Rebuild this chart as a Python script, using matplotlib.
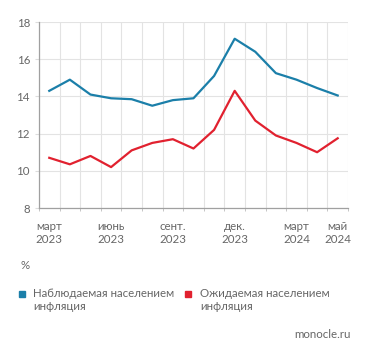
import numpy as np
import matplotlib
matplotlib.use('Agg')
import matplotlib.pyplot as plt
from matplotlib.lines import Line2D

plt.rcParams['font.family'] = ['Lato', 'DejaVu Sans']

# месяцы с марта 2023 по май 2024
months = ['март\n2023', 'апр.\n2023', 'май\n2023', 'июнь\n2023', 'июль\n2023',
          'авг.\n2023', 'сент.\n2023', 'окт.\n2023', 'нояб.\n2023', 'дек.\n2023',
          'янв.\n2024', 'февр.\n2024', 'март\n2024', 'апр.\n2024', 'май\n2024']
observed = [14.3, 14.9, 14.1, 13.9, 13.85, 13.5, 13.8, 13.9, 15.1, 17.1,
            16.4, 15.25, 14.9, 14.45, 14.05]
expected = [10.7, 10.35, 10.8, 10.2, 11.1, 11.5, 11.7, 11.2, 12.2, 14.3,
            12.7, 11.9, 11.5, 11.0, 11.75]
shown = [0, 3, 6, 9, 12, 14]

blue = '#1b7fa9'
red = '#e1212f'
grey = '#666666'
fs = 8.3

fig = plt.figure(figsize=(3.71, 3.55), dpi=100)
ax = fig.add_axes([0.105, 0.414, 0.833, 0.524])

x = np.arange(len(months)) + 0.5
ax.plot(x, observed, color=blue, lw=1.6, solid_joinstyle='round')
ax.plot(x, expected, color=red, lw=1.6, solid_joinstyle='round')

ax.set_xlim(0, len(months))
ax.set_ylim(8, 18)
ax.set_yticks([8, 10, 12, 14, 16, 18])
ax.set_xticks(np.arange(len(months) + 1), minor=True)
ax.set_xticks([x[i] for i in shown])
ax.set_xticklabels([months[i] for i in shown], multialignment='center', linespacing=1.3)
ax.grid(True, which='minor', axis='x', color='#e3e3e3', lw=0.8)
ax.grid(True, which='major', axis='y', color='#e3e3e3', lw=0.8)
ax.tick_params(axis='x', which='major', length=0, pad=9, labelsize=fs, colors=grey)
ax.tick_params(axis='x', which='minor', length=2.5, color='#bbbbbb')
ax.tick_params(axis='y', length=3, color='#dddddd', labelsize=fs, labelcolor=grey)
for s in ['top', 'right']:
    ax.spines[s].set_visible(False)
for s in ['left', 'bottom']:
    ax.spines[s].set_color('#a0a0a0')
    ax.spines[s].set_linewidth(0.9)

fig.text(0.056, 0.253, '%', fontsize=fs, color=grey, va='center')
fig.add_artist(Line2D([0.058], [0.172], marker='s', ms=4, color=blue, transform=fig.transFigure))
fig.add_artist(Line2D([0.508], [0.172], marker='s', ms=4, color=red, transform=fig.transFigure))
fig.text(0.089, 0.190, 'Наблюдаемая населением\nинфляция', fontsize=fs,
         color=grey, va='top', ha='left', linespacing=1.25)
fig.text(0.539, 0.190, 'Ожидаемая населением\nинфляция', fontsize=fs,
         color=grey, va='top', ha='left', linespacing=1.25)
fig.text(0.946, 0.058, 'monocle.ru', fontsize=fs, color=grey, ha='right', va='center')

fig.savefig('out.png', dpi=100)
